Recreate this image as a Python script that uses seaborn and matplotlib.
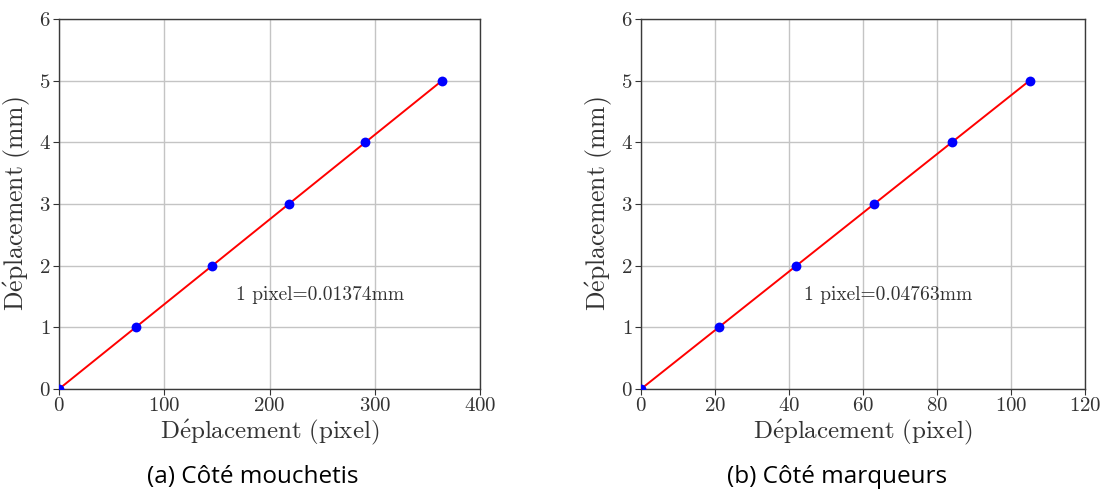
import matplotlib
matplotlib.use("Agg")
import matplotlib.pyplot as plt
import seaborn as sns
import pandas as pd

# Data
pix_a = [0, 72.8, 145.6, 218.3, 291.1, 363.9]
mm_a = [0, 1, 2, 3, 4, 5]
pix_b = [0, 21.0, 42.0, 63.0, 84.0, 105.0]
mm_b = [0, 1, 2, 3, 4, 5]
xticks_a = [0, 100, 200, 300, 400]
xticks_b = [0, 20, 40, 60, 80, 100, 120]
yticks = [0, 1, 2, 3, 4, 5, 6]
note_a = "1 pixel=0.01374mm"
note_b = "1 pixel=0.04763mm"
caption_a = "(a) Côté mouchetis"
caption_b = "(b) Côté marqueurs"
xlabel = r"$\mathrm{D\acute{e}placement\ (pixel)}$"
ylabel = r"$\mathrm{D\acute{e}placement\ (mm)}$"

sns.set_theme(style="whitegrid")
plt.rcParams["mathtext.fontset"] = "cm"
plt.rcParams["font.family"] = ["cmr10", "DejaVu Serif"]
plt.rcParams["axes.formatter.use_mathtext"] = True

fig = plt.figure(figsize=(11.01, 4.92), dpi=100)
W, H = 1101, 492
ax1 = fig.add_axes([59 / W, 1 - 389 / H, 421 / W, 370 / H])
ax2 = fig.add_axes([641 / W, 1 - 389 / H, 444 / W, 370 / H])


def panel(ax, xs, ys, xticks, note, note_xy, caption, cap_x):
    df = pd.DataFrame({"x": xs, "y": ys})
    sns.lineplot(data=df, x="x", y="y", ax=ax, color="red", linewidth=1.4, zorder=3)
    sns.scatterplot(data=df, x="x", y="y", ax=ax, color="blue", s=50, edgecolor="blue",
                    linewidth=0, zorder=4)
    ax.set_xlim(xticks[0], xticks[-1])
    ax.set_ylim(0, 6)
    ax.set_xticks(xticks)
    ax.set_yticks(yticks)
    ax.set_xticklabels([f"${t}$" for t in xticks])
    ax.set_yticklabels([f"${t}$" for t in yticks])
    ax.tick_params(axis="both", labelsize=15, colors="#333333", length=4, width=0.8,
                   direction="out", bottom=True, left=True, pad=2)
    ax.set_xlabel(xlabel, fontsize=18, color="#333333", labelpad=2)
    ax.set_ylabel(ylabel, fontsize=18.5, color="#333333", labelpad=4)
    ax.grid(True, color="#c4c4c4", linewidth=1.0)
    for s in ax.spines.values():
        s.set_color("#3a3a3a")
        s.set_linewidth(1.0)
    ax.text(note_xy[0], note_xy[1], note, fontsize=14, color="#333333",
            va="center", ha="left", family=["cmr10", "DejaVu Serif"])
    fig.text(cap_x / W, 1 - 477 / H, caption, fontsize=17.5, ha="center", va="center",
             family=["Open Sans", "DejaVu Sans"], color="black")


panel(ax1, pix_a, mm_a, xticks_a, note_a, (168, 1.52), caption_a, 253)
panel(ax2, pix_b, mm_b, xticks_b, note_b, (44, 1.52), caption_b, 837)

fig.savefig("out.png", dpi=100, facecolor="white")
